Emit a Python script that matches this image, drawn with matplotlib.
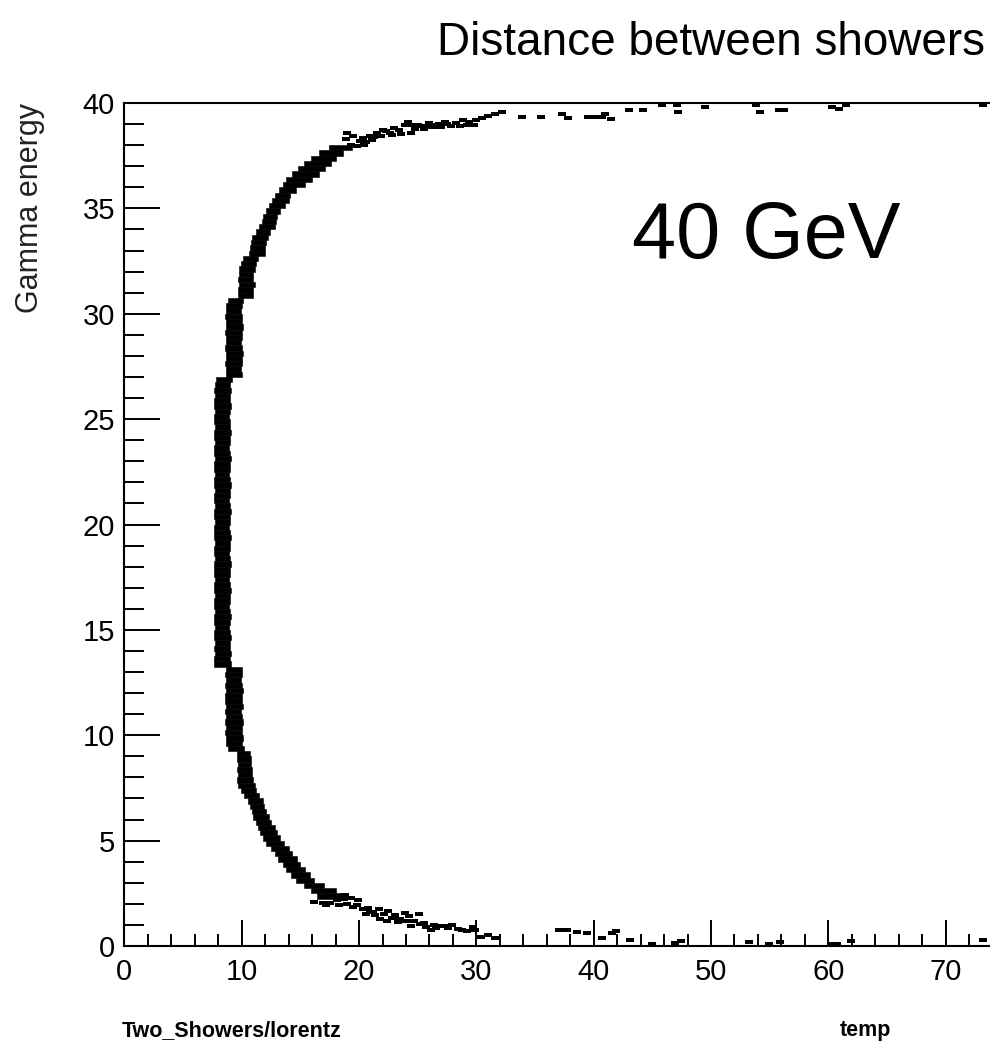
import matplotlib
matplotlib.use('Agg')
import matplotlib.pyplot as plt
import numpy as np
from matplotlib.ticker import MultipleLocator, FixedLocator

plt.rcParams['font.family'] = ['Liberation Sans', 'DejaVu Sans']

# dense core of the scatter band, one row every 0.25 in gamma energy
# (lower edge of row), with left / right edge in distance
band_y = np.arange(2.25, 37.76, 0.25)
band_lo = [16.4, 15.9, 15.3, 14.6, 14.2, 13.8, 13.5, 13.1, 12.8, 12.5,
           12.1, 11.8, 11.6, 11.4, 11.2, 11.0, 10.9, 10.7, 10.5, 10.2,
           9.9, 9.7, 9.6, 9.7, 9.6, 9.7, 9.6, 9.6,
           8.8, 8.7, 8.7, 8.6, 8.7, 8.6, 8.7, 8.6, 8.7, 8.6,
           8.6, 8.7, 8.6, 8.7, 8.6, 8.7,
           7.6, 7.6, 7.7, 7.6, 7.7, 7.6, 7.6, 7.7, 7.6, 7.6,
           7.7, 7.6, 7.6, 7.7, 7.6, 7.6, 7.7, 7.6, 7.6, 7.6,
           7.7, 7.6, 7.6, 7.7, 7.6, 7.6, 7.6, 7.7, 7.6, 7.6,
           7.7, 7.6, 7.6, 7.7, 7.6, 7.6, 7.7, 7.6, 7.6, 7.7,
           7.6, 7.6, 7.7, 7.6, 7.6, 7.7, 7.6, 7.6, 7.7, 7.6,
           7.6, 7.7, 7.6, 7.7, 7.8,
           8.7, 8.7, 8.6, 8.7, 8.7, 8.6, 8.7, 8.7, 8.6, 8.7,
           8.7, 8.6, 8.7, 8.7, 8.8,
           9.7, 9.7, 9.8, 9.7, 9.8, 9.8, 9.9, 10.1,
           10.6, 10.7, 10.8, 10.9, 11.2,
           11.5, 11.7, 11.8, 12.1,
           12.3, 12.6, 12.8, 13.2,
           13.5, 13.8, 14.3, 14.8, 15.3, 15.9, 16.6, 17.4]
band_hi = [18.6, 18.0, 17.0, 16.2, 15.8, 15.4, 15.0, 14.7, 14.3, 14.0,
           13.6, 13.3, 13.0, 12.8, 12.5, 12.3, 12.1, 11.9, 11.8, 11.5,
           11.2, 11.1, 11.0, 10.9, 10.9, 10.8, 10.8, 10.7,
           10.2, 10.0, 10.1, 10.0, 10.0, 10.1, 10.0, 9.9, 10.1, 10.0,
           10.0, 10.1, 10.0, 9.9, 10.0, 10.0,
           9.1, 9.0, 9.1, 9.0, 9.0, 9.1, 9.0, 8.9, 9.0, 9.1,
           9.0, 8.9, 9.0, 9.0, 9.1, 9.0, 8.9, 9.0, 9.0, 9.1,
           9.0, 8.9, 9.0, 9.0, 9.1, 9.0, 8.9, 9.0, 9.0, 9.1,
           9.0, 8.9, 9.0, 9.0, 9.1, 9.0, 8.9, 9.0, 9.0, 9.1,
           9.0, 8.9, 9.0, 9.0, 9.1, 9.0, 9.0, 8.9, 9.0, 9.1,
           9.0, 9.0, 9.1, 9.0, 9.2,
           10.0, 9.9, 10.0, 10.0, 10.1, 10.0, 9.9, 10.0, 10.0, 10.1,
           10.0, 10.0, 9.9, 10.0, 10.1,
           11.0, 11.0, 11.1, 11.0, 11.0, 11.1, 11.2, 11.4,
           12.0, 12.0, 12.1, 12.2, 12.4,
           12.8, 12.9, 13.0, 13.3,
           13.7, 14.0, 14.1, 14.6,
           15.4, 16.0, 16.6, 17.1, 17.6, 18.0, 18.6, 19.4]

# sparse points of the low-energy tail
low_x = [16.2, 16.9, 17.5, 18.1, 18.7, 18.3, 19.0, 19.5, 19.9, 20.3,
         20.8, 21.2, 21.7, 20.6, 22.1, 22.5, 21.8, 22.4, 23.1, 23.5,
         23.9, 24.3, 24.7, 24.4, 25.1, 25.2, 25.7, 26.1, 26.4, 26.9,
         27.4, 27.9, 28.4, 28.8, 29.2, 29.7, 30.4, 31.0, 31.6, 37.0,
         37.7, 38.6, 39.4, 40.7, 41.6, 41.9, 43.1, 45.0, 46.9, 47.4,
         53.2, 54.9, 55.9, 60.3, 60.7, 61.9, 73.2,
         18.8, 19.3, 17.2, 19.8, 20.9, 21.4, 22.8, 23.3, 24.0, 25.5,
         26.6, 27.6, 29.9]
low_y = [2.1, 2.05, 2.05, 2.2, 2.25, 1.95, 2.0, 1.85, 2.2, 1.75,
         1.8, 1.6, 1.75, 1.5, 1.5, 1.65, 1.3, 1.2, 1.45, 1.3,
         1.55, 1.4, 1.2, 0.95, 1.5, 1.05, 0.9, 0.75, 1.0, 0.95,
         0.95, 1.0, 0.8, 0.75, 0.7, 0.9, 0.45, 0.5, 0.4, 0.75,
         0.75, 0.65, 0.6, 0.4, 0.6, 0.7, 0.3, 0.1, 0.15, 0.25,
         0.2, 0.1, 0.2, 0.1, 0.1, 0.25, 0.3,
         2.4, 2.3, 1.95, 1.95, 1.6, 1.45, 1.35, 1.15, 1.2, 1.1,
         0.85, 0.85, 0.75]

# sparse points of the high-energy tail
high_x = [18.9, 19.3, 19.5, 19.8, 20.1, 20.3, 20.6, 21.1, 21.5, 21.9,
          22.0, 22.3, 22.8, 23.0, 23.4, 23.9, 24.2, 24.4, 24.8, 25.0,
          25.3, 25.8, 26.0, 26.3, 26.8, 27.0, 27.3, 27.8, 28.3, 28.6,
          28.9, 29.4, 29.8, 30.5, 31.0, 31.6, 32.2, 33.9, 35.5, 37.3,
          37.8, 39.5, 40.1, 40.7, 41.0, 41.5, 43.0, 44.2, 45.8, 47.1,
          47.2, 49.5, 53.8, 54.2, 55.8, 56.2, 60.3, 60.9, 61.5, 73.2,
          19.0, 20.4, 20.9, 21.3, 22.6, 23.6, 24.6, 25.5, 26.5, 27.5,
          29.2, 30.0]
high_y = [38.3, 38.0, 38.45, 37.95, 38.2, 38.35, 38.15, 38.25, 38.6, 38.45,
          38.7, 38.65, 38.5, 38.8, 38.7, 38.95, 39.1, 38.6, 38.75, 38.95,
          38.9, 38.85, 39.05, 38.95, 39.0, 38.85, 39.1, 38.9, 39.05, 38.9,
          39.2, 39.1, 38.95, 39.3, 39.4, 39.5, 39.55, 39.35, 39.35, 39.5,
          39.3, 39.35, 39.35, 39.35, 39.5, 39.25, 39.65, 39.65, 39.9, 39.9,
          39.55, 39.8, 39.9, 39.55, 39.65, 39.65, 39.8, 39.7, 39.9, 39.9,
          38.6, 38.0, 38.45, 38.4, 38.6, 38.55, 38.95, 38.75, 38.85, 39.0,
          38.95, 39.2]

fig = plt.figure(figsize=(9.9, 10.45), dpi=100)
# axes run past the right edge, like the cropped original
ax = fig.add_axes([124.4 / 990, 99 / 1045, 938.6 / 990, 843 / 1045])

widths = np.array(band_hi) - np.array(band_lo)
ax.barh(band_y, widths, left=band_lo, height=0.25, align='edge',
        color='black', edgecolor='black', linewidth=0.4)

dash = [(-1, -0.5), (1, -0.5), (1, 0.5), (-1, 0.5)]
ax.plot(low_x, low_y, ls='none', marker=dash, ms=5.5, mew=0, color='black')
ax.plot(high_x, high_y, ls='none', marker=dash, ms=5.5, mew=0, color='black')

ax.set_xlim(0, 80)
ax.set_ylim(0, 40)
ax.xaxis.set_major_locator(FixedLocator([0, 10, 20, 30, 40, 50, 60, 70]))
ax.xaxis.set_minor_locator(MultipleLocator(2))
ax.yaxis.set_major_locator(MultipleLocator(5))
ax.yaxis.set_minor_locator(MultipleLocator(1))
ax.tick_params(axis='both', which='both', direction='in', top=False,
               right=False, width=1.4, labelsize=21, colors='black')
ax.tick_params(axis='x', which='major', length=19, pad=8.5)
ax.tick_params(axis='x', which='minor', length=9)
ax.tick_params(axis='y', which='major', length=26, pad=6.8)
ax.tick_params(axis='y', which='minor', length=14.5)
for s in ax.spines.values():
    s.set_linewidth(1.5)

fig.text(437 / 990, 1 - 55 / 1045, 'Distance between showers',
         fontsize=33, ha='left', va='baseline')
fig.text(632 / 990, 1 - 258 / 1045, '40 GeV', fontsize=57,
         ha='left', va='baseline')
fig.text(30 / 990, 1 - 103 / 1045, 'Gamma energy', fontsize=22,
         rotation=90, ha='center', va='top', color='#222222')
fig.text(122 / 990, 1 - 1036 / 1045, 'Two_Showers/lorentz', fontsize=15.5,
         weight='bold', ha='left', va='baseline')
fig.text(840 / 990, 1 - 1036 / 1045, 'temp', fontsize=15.5,
         weight='bold', ha='left', va='baseline')

fig.savefig('out.png', dpi=100)
